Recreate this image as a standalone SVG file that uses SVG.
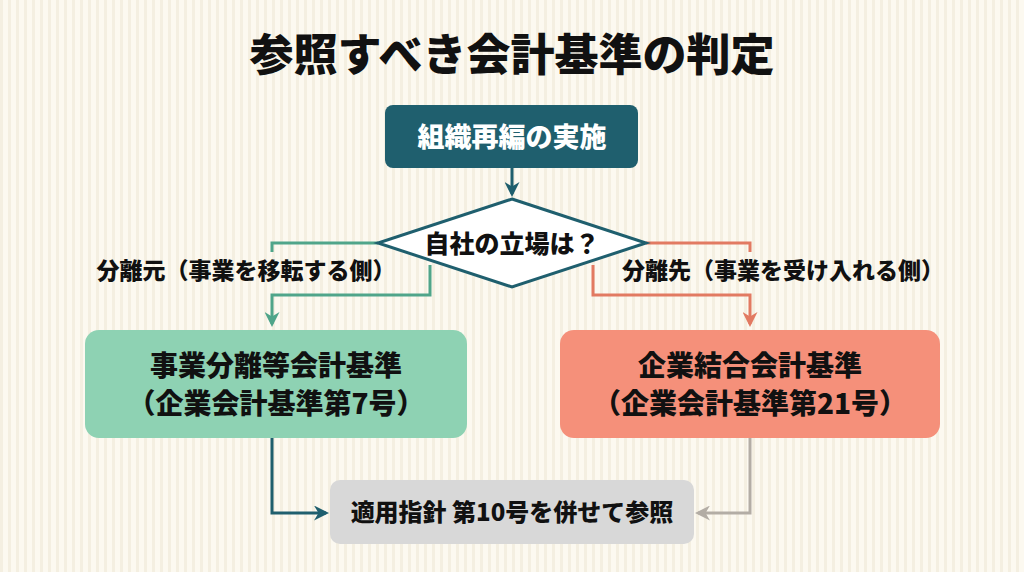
<svg xmlns="http://www.w3.org/2000/svg" width="1024" height="572" viewBox="0 0 1024 572">
<defs>
<pattern id="st" width="8" height="8" patternUnits="userSpaceOnUse"><rect width="8" height="8" fill="#fcf9f0"/><rect width="3" height="8" fill="#f4efe1"/></pattern>
<marker id="aT" viewBox="0 0 10 10" refX="8" refY="5" markerWidth="5" markerHeight="5" orient="auto"><path d="M0,0 L10,5 L0,10 L3,5z" fill="#1f5f6e"/></marker>
<marker id="aG" viewBox="0 0 10 10" refX="8" refY="5" markerWidth="5" markerHeight="5" orient="auto"><path d="M0,0 L10,5 L0,10 L3,5z" fill="#4fa58a"/></marker>
<marker id="aO" viewBox="0 0 10 10" refX="8" refY="5" markerWidth="5" markerHeight="5" orient="auto"><path d="M0,0 L10,5 L0,10 L3,5z" fill="#e27a62"/></marker>
<marker id="aY" viewBox="0 0 10 10" refX="8" refY="5" markerWidth="5" markerHeight="5" orient="auto"><path d="M0,0 L10,5 L0,10 L3,5z" fill="#b3ada5"/></marker>
</defs>
<style>
text{font-family:"Noto Sans CJK JP","Noto Sans",sans-serif;font-weight:900;text-anchor:middle;fill:#111}
.c{fill:none;stroke-width:3}
</style>
<rect width="1024" height="572" fill="url(#st)"/>
<text x="512" y="71" font-size="44">参照すべき会計基準の判定</text>
<g id="connectors">
<path class="c" d="M512,168 V194" stroke="#1f5f6e" marker-end="url(#aT)"/>
<path class="c" d="M378,243 H272 V252" stroke="#4fa58a"/>
<path class="c" d="M430,265 V295 H272 V324" stroke="#4fa58a" marker-end="url(#aG)"/>
<path class="c" d="M646,243 H750 V252" stroke="#e27a62"/>
<path class="c" d="M593,265 V295 H750 V324" stroke="#e27a62" marker-end="url(#aO)"/>
<path class="c" d="M272,438 V513 H326" stroke="#1f5f6e" marker-end="url(#aT)"/>
<path class="c" d="M750,438 V513 H698" stroke="#b3ada5" marker-end="url(#aY)"/>
</g>
<text x="246" y="279" font-size="23">分離元（事業を移転する側）</text>
<text x="783" y="279" font-size="23">分離先（事業を受け入れる側）</text>
<g id="start"><rect x="385" y="105" width="253" height="63" rx="8" fill="#1f5f6e"/><text x="512" y="147" font-size="27" style="fill:#fff">組織再編の実施</text></g>
<g id="decision"><path d="M512,199 L646,243 L512,287 L378,243Z" fill="#fff" stroke="#1f5f6e" stroke-width="3"/><text x="512" y="253" font-size="25">自社の立場は？</text></g>
<g id="left"><rect x="85" y="330" width="382" height="108" rx="14" fill="#8ed2b3"/><text x="276" y="376" font-size="28">事業分離等会計基準</text><text x="276" y="414" font-size="28">（企業会計基準第7号）</text></g>
<g id="right"><rect x="560" y="330" width="380" height="108" rx="14" fill="#f5907a"/><text x="750" y="376" font-size="28">企業結合会計基準</text><text x="750" y="414" font-size="28">（企業会計基準第21号）</text></g>
<g id="bottom"><rect x="330" y="480" width="364" height="64" rx="10" fill="#d8d8d8"/><text x="512" y="521" font-size="24">適用指針 第10号を併せて参照</text></g>
</svg>
